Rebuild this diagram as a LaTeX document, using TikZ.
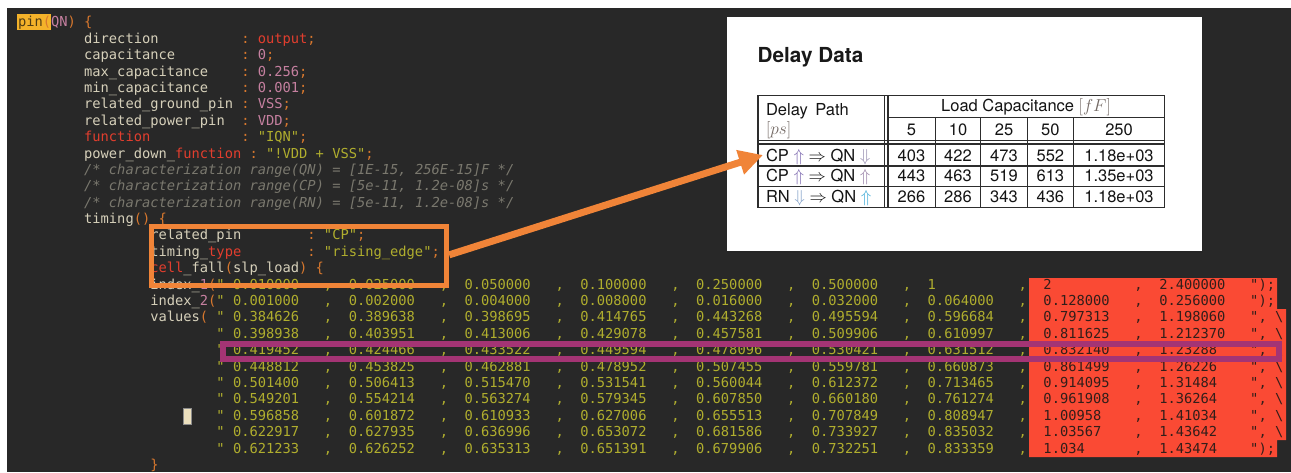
\documentclass[tikz,border=0pt]{standalone}
\usepackage{fontspec}
\usetikzlibrary{arrows.meta}
\newfontfamily\codefont{DejaVu Sans Mono}
\newfontfamily\tabfont{TeX Gyre Heros}

% editor palette
\definecolor{bgdark}{RGB}{40,40,40}
\definecolor{ident}{RGB}{214,208,186}
\definecolor{punct}{RGB}{216,120,46}
\definecolor{kword}{RGB}{226,62,46}
\definecolor{numc}{RGB}{198,128,160}
\definecolor{strc}{RGB}{176,174,46}
\definecolor{cmtc}{RGB}{122,120,110}
\definecolor{hlpin}{RGB}{244,178,42}
\definecolor{pintext}{RGB}{80,60,20}
\definecolor{selred}{RGB}{250,74,52}
\definecolor{seltext}{RGB}{50,30,26}
\definecolor{markorange}{RGB}{240,132,56}
\definecolor{markpurple}{RGB}{164,52,116}
\definecolor{cursorc}{RGB}{236,224,190}
% table palette
\definecolor{tabline}{RGB}{45,45,45}
\definecolor{unitc}{RGB}{115,105,100}
\definecolor{upcp}{RGB}{125,105,175}
\definecolor{dnqn}{RGB}{150,140,175}
\definecolor{upqn}{RGB}{150,125,165}
\definecolor{dnrn}{RGB}{130,160,200}
\definecolor{upqnb}{RGB}{60,170,215}

\tikzset{
  code/.style={anchor=base west, inner sep=0pt, outer sep=0pt,
    font=\codefont\fontsize{13.74pt}{16pt}\selectfont},
  comment/.style={code, text=cmtc, font=\codefont\itshape\fontsize{13.74pt}{16pt}\selectfont},
  tabtext/.style={inner sep=0pt, outer sep=0pt, text=black!92,
    font=\tabfont\fontsize{16.5pt}{19pt}\selectfont},
  tabrule/.style={draw=tabline, line width=1.2pt},
  tabouter/.style={draw=tabline, line width=1.7pt},
}

% one coloured piece of source text at a given column and line
\newcommand\ct[4]{\node[code, text=#3] (t#2-#1) at ({18+8.27*(#1)},{26.9+16.39*(#2)}) {#4};}
% one line of the lookup table: leading quote, seven plain values, two selected values, line end
\newcommand\datarow[5]{%
  \ct{24}{#1}{strc}{"}
  \foreach \v [count=\k from 0] in {#2}{
    \pgfmathtruncatemacro\ncol{26+14*\k}
    \pgfmathtruncatemacro\ccol{37+14*\k}
    \ct{\ncol}{#1}{strc}{\v}
    \ct{\ccol}{#1}{strc}{,}
  }
  \ct{124}{#1}{seltext}{#3}
  \ct{135}{#1}{seltext}{,}
  \ct{138}{#1}{seltext}{#4}
  #5{#1}
}
\newcommand\closeend[1]{\ct{149}{#1}{seltext}{");}}
\newcommand\contend[1]{\ct{149}{#1}{seltext}{",}\ct{152}{#1}{seltext}{\textbackslash}}

\begin{document}
\begin{tikzpicture}[x=1pt, y=-1pt]
\useasboundingbox (0,0) rectangle (1291,472);
\fill[white] (0,0) rectangle (1291,472);
\fill[bgdark] (7,8) rectangle (1291,472);

% ---------- rendered delay table ----------
\fill[white] (727,17) rectangle (1202,251);
\draw[black!85, line width=1.5pt] (1202.5,17) -- (1202.5,251.8) -- (727,251.8);
\node[anchor=base west, inner sep=0pt, text=black!90,
      font=\tabfont\bfseries\fontsize{20.7pt}{24pt}\selectfont] (title) at (757.5,62.2) {Delay Data};

\draw[tabouter] (758,95.5) rectangle (1164.5,207.5);
\draw[tabrule] (884.5,95.5) -- (884.5,207.5);
\draw[tabrule] (888,95.5) -- (888,207.5);
\draw[tabrule] (888,117.3) -- (1164.5,117.3);
\draw[tabrule] (758,140.5) -- (1164.5,140.5);
\draw[tabrule] (758,144) -- (1164.5,144);
\draw[tabrule] (758,166) -- (1164.5,166);
\draw[tabrule] (758,186.7) -- (1164.5,186.7);
\foreach \cxp in {935.3,980.7,1027.3,1073.5}
  \draw[tabrule] (\cxp,117.3) -- (\cxp,207.5);

\node[tabtext, anchor=base west] (hpath) at (766,115) {Delay\hspace{3pt} Path};
\node[tabtext, anchor=base west] (hunit) at (766,134.5) {\textcolor{unitc}{$[ps]$}};
\node[tabtext, anchor=base] (hload) at (1026,111.8) {Load Capacitance \textcolor{unitc}{$[fF]$}};
\node[tabtext, anchor=base] (c1) at (911.5,135.3) {5};
\node[tabtext, anchor=base] (c2) at (958,135.3) {10};
\node[tabtext, anchor=base] (c3) at (1004,135.3) {25};
\node[tabtext, anchor=base] (c4) at (1050.4,135.3) {50};
\node[tabtext, anchor=base] (c5) at (1119,135.3) {250};

\node[tabtext, anchor=base west] (r1) at (766,161)
  {CP \textcolor{upcp}{$\Uparrow$} $\Rightarrow$ QN \textcolor{dnqn}{$\Downarrow$}};
\node[tabtext, anchor=base west] (r2) at (766,181.5)
  {CP \textcolor{upcp}{$\Uparrow$} $\Rightarrow$ QN \textcolor{upqn}{$\Uparrow$}};
\node[tabtext, anchor=base west] (r3) at (766,202)
  {RN \textcolor{dnrn}{$\Downarrow$} $\Rightarrow$ QN \textcolor{upqnb}{$\Uparrow$}};
\foreach \yb/\a/\b/\c/\d/\e in {161/403/422/473/552/1.18e+03,
                               181.5/443/463/519/613/1.35e+03,
                               202/266/286/343/436/1.18e+03}{
  \node[tabtext, anchor=base] at (911.5,\yb) {\a};
  \node[tabtext, anchor=base] at (958,\yb) {\b};
  \node[tabtext, anchor=base] at (1004,\yb) {\c};
  \node[tabtext, anchor=base] at (1050.4,\yb) {\d};
  \node[tabtext, anchor=base] at (1119,\yb) {\e};
}
\coordinate (rowtip) at (763,155);

% ---------- source listing ----------
\fill[hlpin] (17,14) rectangle (51,29.5);
\fill[selred] (1029,278) -- (1277,278) -- (1277,309) -- (1286,309) -- (1286,440.2)
   -- (1277,440.2) -- (1277,457) -- (1029,457) -- cycle;
\filldraw[fill=cursorc, draw=black!45, line width=0.6pt] (183.5,408) rectangle (191.5,424);

\ct{0}{0}{pintext}{pin}\ct{3}{0}{punct}{(}\ct{4}{0}{numc}{QN}\ct{6}{0}{punct}{)}\ct{8}{0}{punct}{\{}
\ct{8}{1}{ident}{direction}\ct{27}{1}{punct}{:}\ct{29}{1}{kword}{output}\ct{35}{1}{punct}{;}
\ct{8}{2}{ident}{capacitance}\ct{27}{2}{punct}{:}\ct{29}{2}{numc}{0}\ct{30}{2}{punct}{;}
\ct{8}{3}{ident}{max\_capacitance}\ct{27}{3}{punct}{:}\ct{29}{3}{numc}{0.256}\ct{34}{3}{punct}{;}
\ct{8}{4}{ident}{min\_capacitance}\ct{27}{4}{punct}{:}\ct{29}{4}{numc}{0.001}\ct{34}{4}{punct}{;}
\ct{8}{5}{ident}{related\_ground\_pin}\ct{27}{5}{punct}{:}\ct{29}{5}{numc}{VSS}\ct{32}{5}{punct}{;}
\ct{8}{6}{ident}{related\_power\_pin}\ct{27}{6}{punct}{:}\ct{29}{6}{numc}{VDD}\ct{32}{6}{punct}{;}
\ct{8}{7}{kword}{function}\ct{27}{7}{punct}{:}\ct{29}{7}{strc}{"IQN"}\ct{34}{7}{punct}{;}
\ct{8}{8}{ident}{power\_down\_}\ct{19}{8}{kword}{function}\ct{28}{8}{punct}{:}\ct{30}{8}{strc}{"!VDD + VSS"}\ct{42}{8}{punct}{;}
\node[comment] (cm1) at ({18+8.27*8},{26.9+16.39*9}) {/* characterization range(QN) = [1E-15, 256E-15]F */};
\node[comment] (cm2) at ({18+8.27*8},{26.9+16.39*10}) {/* characterization range(CP) = [5e-11, 1.2e-08]s */};
\node[comment] (cm3) at ({18+8.27*8},{26.9+16.39*11}) {/* characterization range(RN) = [5e-11, 1.2e-08]s */};
\ct{8}{12}{ident}{timing}\ct{14}{12}{punct}{()}\ct{17}{12}{punct}{\{}
\ct{16}{13}{ident}{related\_pin}\ct{35}{13}{punct}{:}\ct{37}{13}{strc}{"CP"}\ct{41}{13}{punct}{;}
\ct{16}{14}{ident}{timing\_}\ct{23}{14}{kword}{type}\ct{35}{14}{punct}{:}\ct{37}{14}{strc}{"rising\_edge"}\ct{50}{14}{punct}{;}
\ct{16}{15}{kword}{cell}\ct{20}{15}{ident}{\_fall}\ct{25}{15}{punct}{(}\ct{26}{15}{ident}{slp\_load}\ct{34}{15}{punct}{)}\ct{36}{15}{punct}{\{}
\ct{16}{16}{ident}{index\_}\ct{22}{16}{numc}{1}\ct{23}{16}{punct}{(}
\datarow{16}{0.010000,0.025000,0.050000,0.100000,0.250000,0.500000,1}{2}{2.400000}{\closeend}
\ct{16}{17}{ident}{index\_}\ct{22}{17}{numc}{2}\ct{23}{17}{punct}{(}
\datarow{17}{0.001000,0.002000,0.004000,0.008000,0.016000,0.032000,0.064000}{0.128000}{0.256000}{\closeend}
\ct{16}{18}{ident}{values}\ct{22}{18}{punct}{(}
\datarow{18}{0.384626,0.389638,0.398695,0.414765,0.443268,0.495594,0.596684}{0.797313}{1.198060}{\contend}
\datarow{19}{0.398938,0.403951,0.413006,0.429078,0.457581,0.509906,0.610997}{0.811625}{1.212370}{\contend}
\datarow{20}{0.419452,0.424466,0.433522,0.449594,0.478096,0.530421,0.631512}{0.832140}{1.23288}{\contend}
\datarow{21}{0.448812,0.453825,0.462881,0.478952,0.507455,0.559781,0.660873}{0.861499}{1.26226}{\contend}
\datarow{22}{0.501400,0.506413,0.515470,0.531541,0.560044,0.612372,0.713465}{0.914095}{1.31484}{\contend}
\datarow{23}{0.549201,0.554214,0.563274,0.579345,0.607850,0.660180,0.761274}{0.961908}{1.36264}{\contend}
\datarow{24}{0.596858,0.601872,0.610933,0.627006,0.655513,0.707849,0.808947}{1.00958}{1.41034}{\contend}
\datarow{25}{0.622917,0.627935,0.636996,0.653072,0.681586,0.733927,0.835032}{1.03567}{1.43642}{\contend}
\datarow{26}{0.621233,0.626252,0.635313,0.651391,0.679906,0.732251,0.833359}{1.034}{1.43474}{\closeend}
\ct{16}{27}{punct}{\}}

% ---------- annotations ----------
\node[draw=markpurple, line width=6pt, minimum width=1056pt, minimum height=15pt,
      inner sep=0pt, anchor=north west] (prow) at (220,341) {};
\node[draw=markorange, line width=5.5pt, minimum width=295.2pt, minimum height=59.2pt,
      inner sep=0pt, anchor=north west] (obox) at (148.5,223.5) {};
\draw[markorange, line width=7pt, -{Triangle[length=24pt,width=24pt]}]
  ([yshift=1pt]obox.east) -- (rowtip);
\end{tikzpicture}
\end{document}
